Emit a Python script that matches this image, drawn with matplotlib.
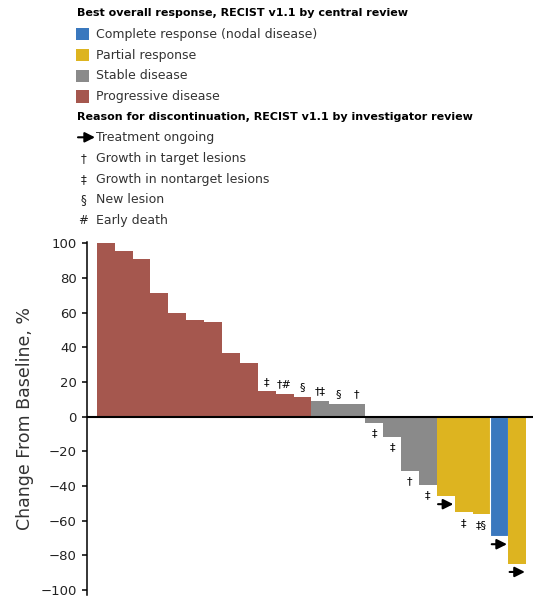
import numpy as np
import matplotlib
matplotlib.use('Agg')
from matplotlib import pyplot as plt
from matplotlib import transforms
from matplotlib.patches import Rectangle

# best percentage change from baseline, one bar per patient (sorted)
values = [100, 95.5, 90.7, 71.3, 59.7, 55.5, 54.5, 36.6, 30.8, 14.5, 13.1, 11.6,
          8.9, 7.3, 7.3, -3.7, -11.6, -31.2, -39.3,
          -45.7, -55.3, -56.3, -68.8, -84.8]
responses = ['PD'] * 12 + ['SD'] * 7 + ['PR', 'PR', 'PR', 'CR', 'PR']
# reason for discontinuation ('arrow' = treatment ongoing)
reasons = ['', '', '', '', '', '', '', '', '', '\u2021', '\u2020#', '\u00a7',
           '\u2020\u2021', '\u00a7', '\u2020', '\u2021', '\u2021', '\u2020', '\u2021',
           'arrow', '\u2021', '\u2021\u00a7', 'arrow', 'arrow']

colors = {'CR': '#3A78BE', 'PR': '#DDB420', 'SD': '#8A8A8A', 'PD': '#A5574E'}
resp_keys = ['CR', 'PR', 'SD', 'PD']
resp_labels = ['Complete response (nodal disease)', 'Partial response',
               'Stable disease', 'Progressive disease']
reason_symbols = ['arrow', '\u2020', '\u2021', '\u00a7', '#']
reason_labels = ['Treatment ongoing', 'Growth in target lesions',
                 'Growth in nontarget lesions', 'New lesion', 'Early death']

plt.rcParams['font.family'] = ['DejaVu Sans']

W, H = 533, 600
fig = plt.figure(figsize=(W / 100, H / 100), dpi=100)


def fx(px):
    return px / W


def fy(py):
    return 1 - py / H


ARROW = dict(arrowstyle='-|>,head_length=0.6,head_width=0.3',
             color='black', lw=1.5, shrinkA=0, shrinkB=0)

ax = fig.add_axes([fx(86.7), fy(595), 1 - fx(86.7), (595 - 241.7) / H])

x = np.arange(len(values))
bars = ax.bar(x, values, width=1.0, color=[colors[r] for r in responses], linewidth=0)
for b, r in zip(bars, responses):
    if r == 'CR':
        b.set_edgecolor('white')
        b.set_linewidth(0.8)

for xi, v, m in zip(x, values, reasons):
    if not m:
        continue
    if m == 'arrow':
        head = transforms.offset_copy(ax.transData, fig=fig, x=5.5, y=-6, units='points')
        tail = transforms.offset_copy(ax.transData, fig=fig, x=-5.5, y=-6, units='points')
        ax.annotate('', xy=(xi, v), xycoords=head, xytext=(xi, v), textcoords=tail,
                    arrowprops=ARROW, annotation_clip=False)
    else:
        ax.annotate(m, xy=(xi, v), xytext=(0, 7 if v > 0 else -7.5),
                    textcoords='offset points', ha='center', va='center',
                    fontsize=8, color='black')

ax.axhline(0, color='black', lw=1.5, zorder=3)
ax.set_xlim(-1.06, 23.88)
ax.set_ylim(-102.9, 100.9)
for s in ['top', 'right', 'bottom']:
    ax.spines[s].set_visible(False)
ax.spines['left'].set_linewidth(1.1)
ax.set_xticks([])
ax.set_yticks(np.arange(-100, 101, 20))
ax.tick_params(axis='y', direction='out', length=3.6, width=1.1,
               labelsize=9.5, pad=3.5, labelcolor='#222222')
ax.set_ylabel('Change From Baseline, %', fontsize=12.5, color='#333333')
ax.yaxis.set_label_coords(-0.118, 0.5)

# legend block
fig.text(fx(76.7), fy(13.3), 'Best overall response, RECIST v1.1 by central review',
         fontsize=8.0, fontweight='bold', va='center', ha='left')
for i, (k, lab) in enumerate(zip(resp_keys, resp_labels)):
    y = 34.2 + 20.8 * i
    fig.add_artist(Rectangle((fx(76.3), fy(y + 6.2)), 13 / W, 12.4 / H,
                             transform=fig.transFigure, color=colors[k], lw=0))
    fig.text(fx(96), fy(y), lab, fontsize=9, va='center', ha='left', color='#333333')

fig.text(fx(76.7), fy(117.3), 'Reason for discontinuation, RECIST v1.1 by investigator review',
         fontsize=8.0, fontweight='bold', va='center', ha='left')
for i, (sym, lab) in enumerate(zip(reason_symbols, reason_labels)):
    y = 137.3 + 20.9 * i
    if sym == 'arrow':
        ax.annotate('', xy=(fx(95), fy(y)), xycoords='figure fraction',
                    xytext=(fx(78), fy(y)), textcoords='figure fraction',
                    arrowprops=ARROW, annotation_clip=False)
    else:
        fig.text(fx(83.5), fy(y), sym, fontsize=8.5, va='center', ha='center', color='#222222')
    fig.text(fx(96), fy(y), lab, fontsize=9, va='center', ha='left', color='#333333')

fig.savefig('out.png', dpi=100)
